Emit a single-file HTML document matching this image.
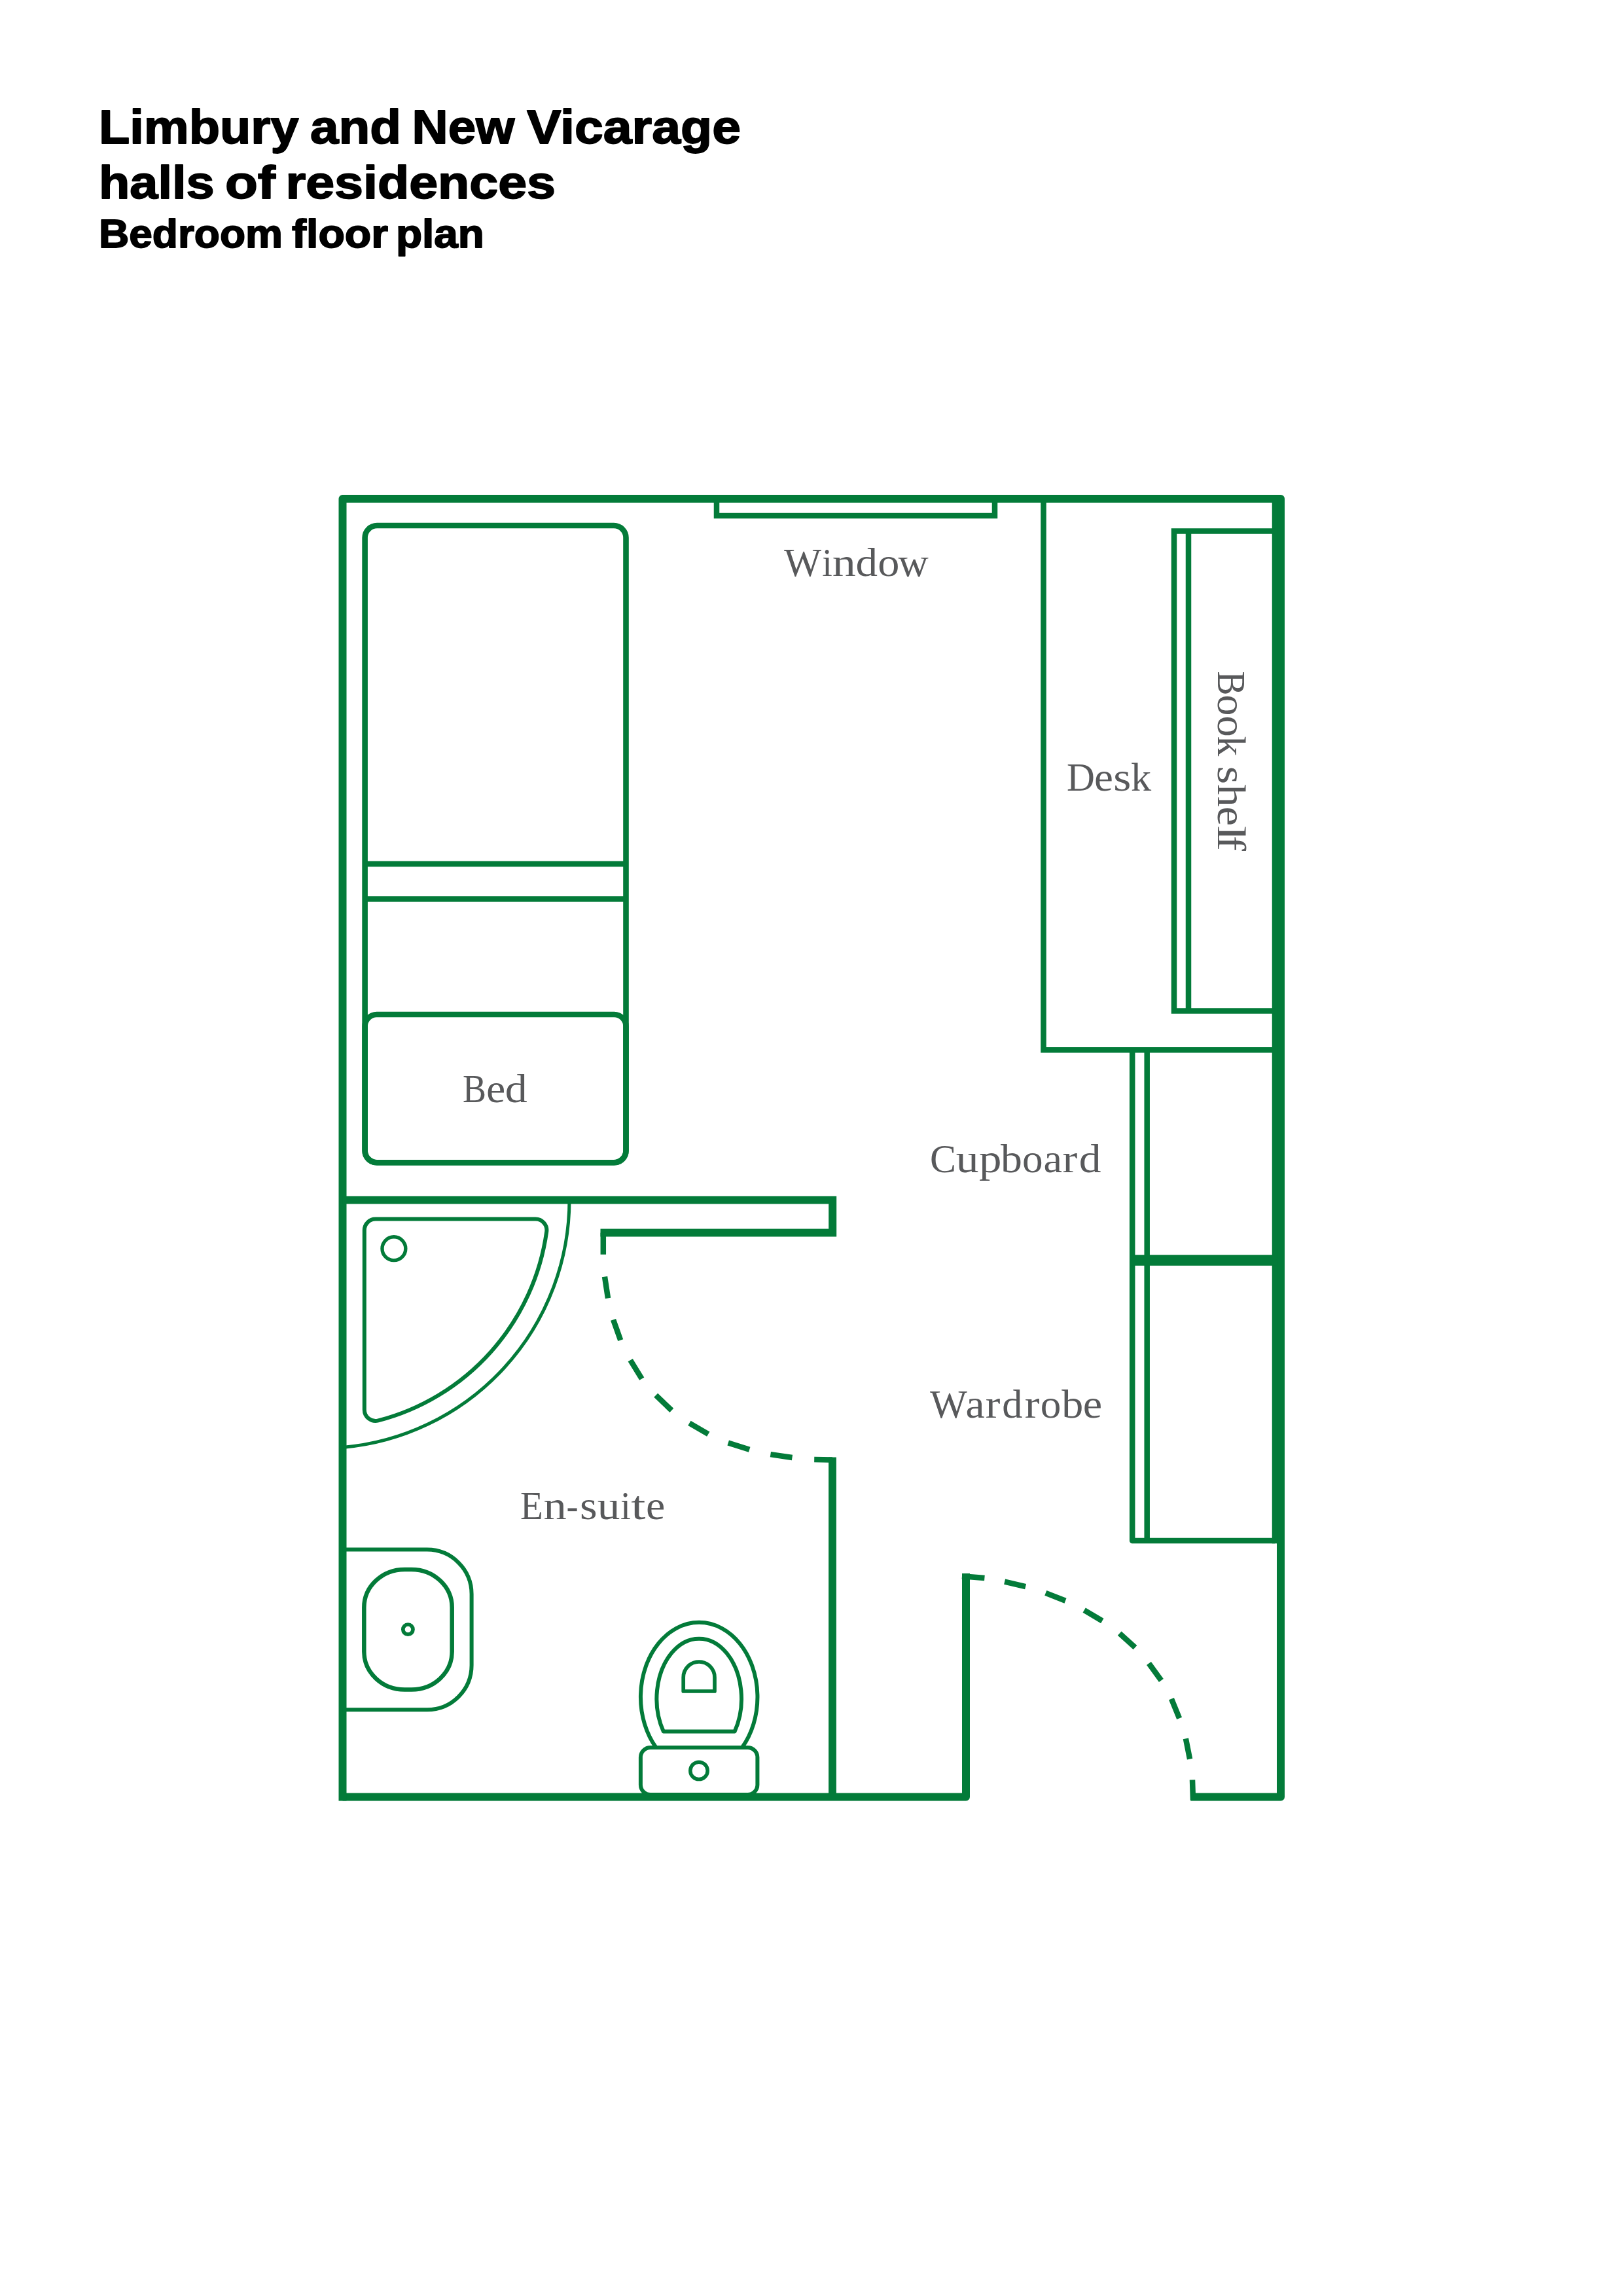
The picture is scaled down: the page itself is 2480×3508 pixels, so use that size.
<!DOCTYPE html>
<html>
<head>
<meta charset="utf-8">
<style>
html,body{margin:0;padding:0;background:#fff;}
body{width:2480px;height:3508px;overflow:hidden;position:relative;}
svg{position:absolute;left:0;top:0;}
</style>
</head>
<body>
<svg width="2480" height="3508" viewBox="0 0 2480 3508">
<rect x="0" y="0" width="2480" height="3508" fill="#fff"/>
<!-- Title -->
<g font-family="Liberation Sans, sans-serif" font-weight="bold" fill="#000" stroke="#000" stroke-width="1.8" stroke-linejoin="round">
  <text x="151.00" y="219" font-size="72.5" textLength="305.50" lengthAdjust="spacingAndGlyphs">Limbury</text>
  <text x="474.00" y="219" font-size="72.5" textLength="139.00" lengthAdjust="spacingAndGlyphs">and</text>
  <text x="629.50" y="219" font-size="72.5" textLength="157.00" lengthAdjust="spacingAndGlyphs">New</text>
  <text x="805.00" y="219" font-size="72.5" textLength="327.00" lengthAdjust="spacingAndGlyphs">Vicarage</text>
  <text x="151.00" y="302.5" font-size="70.5" textLength="176.50" lengthAdjust="spacingAndGlyphs">halls</text>
  <text x="344.00" y="302.5" font-size="70.5" textLength="77.00" lengthAdjust="spacingAndGlyphs">of</text>
  <text x="436.50" y="302.5" font-size="70.5" textLength="412.50" lengthAdjust="spacingAndGlyphs">residences</text>
  <text x="151.00" y="377.5" font-size="61.5" textLength="281.00" lengthAdjust="spacingAndGlyphs">Bedroom</text>
  <text x="446.00" y="377.5" font-size="61.5" textLength="147.00" lengthAdjust="spacingAndGlyphs">floor</text>
  <text x="605.00" y="377.5" font-size="61.5" textLength="135.00" lengthAdjust="spacingAndGlyphs">plan</text>
</g>

<g fill="none" stroke="#037b39" stroke-linecap="butt">
  <!-- outer walls -->
  <path d="M1476 2404 V2745.5 H523.5" stroke-width="12" stroke-linejoin="round"/>
  <path d="M523.5 2751.5 V762 H1957 V2745.5 H1819.2" stroke-width="12" stroke-linejoin="round"/>
  <!-- window -->
  <path d="M1095 762 V788 H1520 V762" stroke-width="8.5"/>
  <!-- desk -->
  <path d="M1594.5 762 V1604.2 H1948" stroke-width="8.5"/>
  <!-- inner right line -->
  <path d="M1948 762 V2358.2" stroke-width="8.5"/>
  <!-- bookshelf -->
  <path d="M1948 811.5 H1794 V1544.4 H1948" stroke-width="8.5"/>
  <path d="M1816 811.5 V1544.4" stroke-width="8.5"/>
  <!-- cupboard / wardrobe -->
  <path d="M1730.2 1604.2 V2354 H1948" stroke-width="8.5" stroke-linejoin="round"/>
  <path d="M1752.7 1604.2 V2354" stroke-width="8.5"/>
  <path d="M1730.2 1921.4 H1948 M1730.2 1929.6 H1948" stroke-width="8.5" stroke-linecap="round"/>
  <!-- bed -->
  <rect x="557.6" y="803" width="398.9" height="973.3" rx="18.5" ry="18.5" stroke-width="8.6"/>
  <path d="M557.6 1320 H956.5 M557.6 1373.5 H956.5" stroke-width="8.6"/>
  <rect x="557.6" y="1550" width="398.9" height="226.3" rx="18" ry="18" stroke-width="8.6"/>
  <!-- interior wall -->
  <path d="M523.5 1833.6 H1272.2 V1883.6 H917.5" stroke-width="12"/>
  <!-- ensuite door -->
  <path d="M921.8 1883.6 V1916.7" stroke-width="8.5"/>
  <path d="M924 1950.7 L929 1983.5 M937.1 2016.3 L948.2 2047.6 M963.2 2078.1 L980.7 2106.6 M1002.2 2131.8 L1026.3 2154.9 M1053.4 2174.4 L1082.3 2191.2 M1112.7 2204.5 L1145.2 2214.7 M1177.4 2222.1 L1210.5 2227 M1244.2 2230 L1272 2230.5" stroke-width="8.5"/>
  <!-- ensuite wall -->
  <path d="M1272 2226.5 V2745.5" stroke-width="11.8"/>
  <!-- entrance door -->
  <path d="M1470 2408.2 L1504.4 2411.1" stroke-width="8.5"/>
  <path d="M1535.1 2416.6 L1567.1 2424.2 M1597.8 2433.9 L1628 2445.7 M1656.7 2460.2 L1684.3 2476.5 M1710.7 2495.6 L1734.5 2517.2 M1755.5 2541.4 L1774.4 2567.5 M1790 2595.7 L1802.1 2625.3 M1811.9 2656.3 L1818.1 2687.6 M1822 2719.3 L1823 2750" stroke-width="8.5"/>
  <!-- shower -->
  <path d="M870 1833.6 A379.4 379.4 0 0 1 523.5 2211.5" stroke-width="5"/>
  <path d="M556.8 1879.6 A17 17 0 0 1 573.8 1862.6 H818.4 A17 17 0 0 1 835.2 1882 A348 348 0 0 1 578.1 2170.4 A17 17 0 0 1 556.8 2154 Z" stroke-width="6"/>
  <circle cx="601.9" cy="1907.7" r="17.9" stroke-width="5.4"/>
  <!-- sink -->
  <path d="M523.5 2367.6 H652.6 A68 68 0 0 1 720.6 2435.6 V2544.2 A68 68 0 0 1 652.6 2612.2 H523.5" stroke-width="6"/>
  <rect x="556.3" y="2398" width="134.4" height="183.5" rx="62" ry="58" stroke-width="6.5"/>
  <circle cx="623.4" cy="2489.6" r="7.6" stroke-width="5.7"/>
  <!-- toilet -->
  <rect x="978.9" y="2670.1" width="178.5" height="72" rx="15" ry="15" stroke-width="6"/>
  <path d="M1002.5 2670 A89.25 114 0 1 1 1133.9 2670" stroke-width="6"/>
  <path d="M1013.8 2645.4 A64.8 91.8 0 1 1 1122.6 2645.4 Z" stroke-width="6" stroke-linejoin="round"/>
  <path d="M1044.2 2584 V2562.9 A23.9 23.9 0 0 1 1092 2562.9 V2584 Z" stroke-width="5.7" stroke-linejoin="round"/>
  <circle cx="1068" cy="2705.4" r="13.2" stroke-width="5.5"/>
</g>

<!-- labels -->
<g font-family="Liberation Serif, serif" fill="#58595b" font-size="61">
  <text transform="translate(1198.04 880) scale(0.9931 1)">W</text>
  <text transform="translate(1256.13 880) scale(0.9169 1)">i</text>
  <text transform="translate(1271.85 880) scale(1.1818 1)">n</text>
  <text transform="translate(1307.38 880) scale(1.0998 1)">d</text>
  <text transform="translate(1341.27 880) scale(1.0869 1)">o</text>
  <text transform="translate(1372.54 880) scale(1.0498 1)">w</text>
  <text transform="translate(1629.89 1208) scale(0.9736 1)">D</text>
  <text transform="translate(1671.96 1208) scale(1.0675 1)">e</text>
  <text transform="translate(1701.25 1208) scale(1.1401 1)">s</text>
  <text transform="translate(1727.91 1208) scale(1.0226 1)">k</text>
  <text transform="translate(706.95 1684) scale(0.8845 1)">B</text>
  <text transform="translate(742.92 1684) scale(1.0807 1)">e</text>
  <text transform="translate(771.84 1684) scale(1.1143 1)">d</text>
  <text transform="translate(1421.04 1791) scale(0.9822 1)">C</text>
  <text transform="translate(1460.69 1791) scale(1.1377 1)">u</text>
  <text transform="translate(1495.89 1791) scale(1.1277 1)">p</text>
  <text transform="translate(1528.90 1791) scale(1.0789 1)">b</text>
  <text transform="translate(1561.99 1791) scale(1.0366 1)">o</text>
  <text transform="translate(1594.54 1791) scale(1.0541 1)">a</text>
  <text transform="translate(1623.53 1791) scale(1.1209 1)">r</text>
  <text transform="translate(1648.86 1791) scale(1.1070 1)">d</text>
  <text transform="translate(1420.94 2165.5) scale(0.9879 1)">W</text>
  <text transform="translate(1475.39 2165.5) scale(1.0749 1)">a</text>
  <text transform="translate(1505.64 2165.5) scale(1.1155 1)">r</text>
  <text transform="translate(1531.14 2165.5) scale(1.0235 1)">d</text>
  <text transform="translate(1565.83 2165.5) scale(1.1209 1)">r</text>
  <text transform="translate(1589.69 2165.5) scale(1.0366 1)">o</text>
  <text transform="translate(1622.20 2165.5) scale(1.0825 1)">b</text>
  <text transform="translate(1654.71 2165.5) scale(1.0852 1)">e</text>
  <text transform="translate(795.06 2321) scale(0.9333 1)">E</text>
  <text transform="translate(830.48 2321) scale(1.1570 1)">n</text>
  <text transform="translate(865.59 2321) scale(0.8898 1)">-</text>
  <text transform="translate(885.90 2321) scale(1.1191 1)">s</text>
  <text transform="translate(912.79 2321) scale(1.1342 1)">u</text>
  <text transform="translate(948.00 2321) scale(0.9376 1)">i</text>
  <text transform="translate(964.32 2321) scale(1.3129 1)">t</text>
  <text transform="translate(986.92 2321) scale(1.0807 1)">e</text>
  <g transform="translate(1861.2 0) rotate(90)">
    <text transform="translate(1025.51 0) scale(0.9068 1)">B</text>
    <text transform="translate(1061.56 0) scale(1.0482 1)">o</text>
    <text transform="translate(1093.54 0) scale(1.0598 1)">o</text>
    <text transform="translate(1124.52 0) scale(1.0123 1)">k</text>
    <text transform="translate(1170.48 0) scale(1.1664 1)">s</text>
    <text transform="translate(1198.53 0) scale(1.1203 1)">h</text>
    <text transform="translate(1232.51 0) scale(1.0852 1)">e</text>
    <text transform="translate(1261.52 0) scale(1.3719 1)">l</text>
    <text transform="translate(1277.07 0) scale(1.1336 1)">f</text>
  </g>
</g>
</svg>
</body>
</html>
